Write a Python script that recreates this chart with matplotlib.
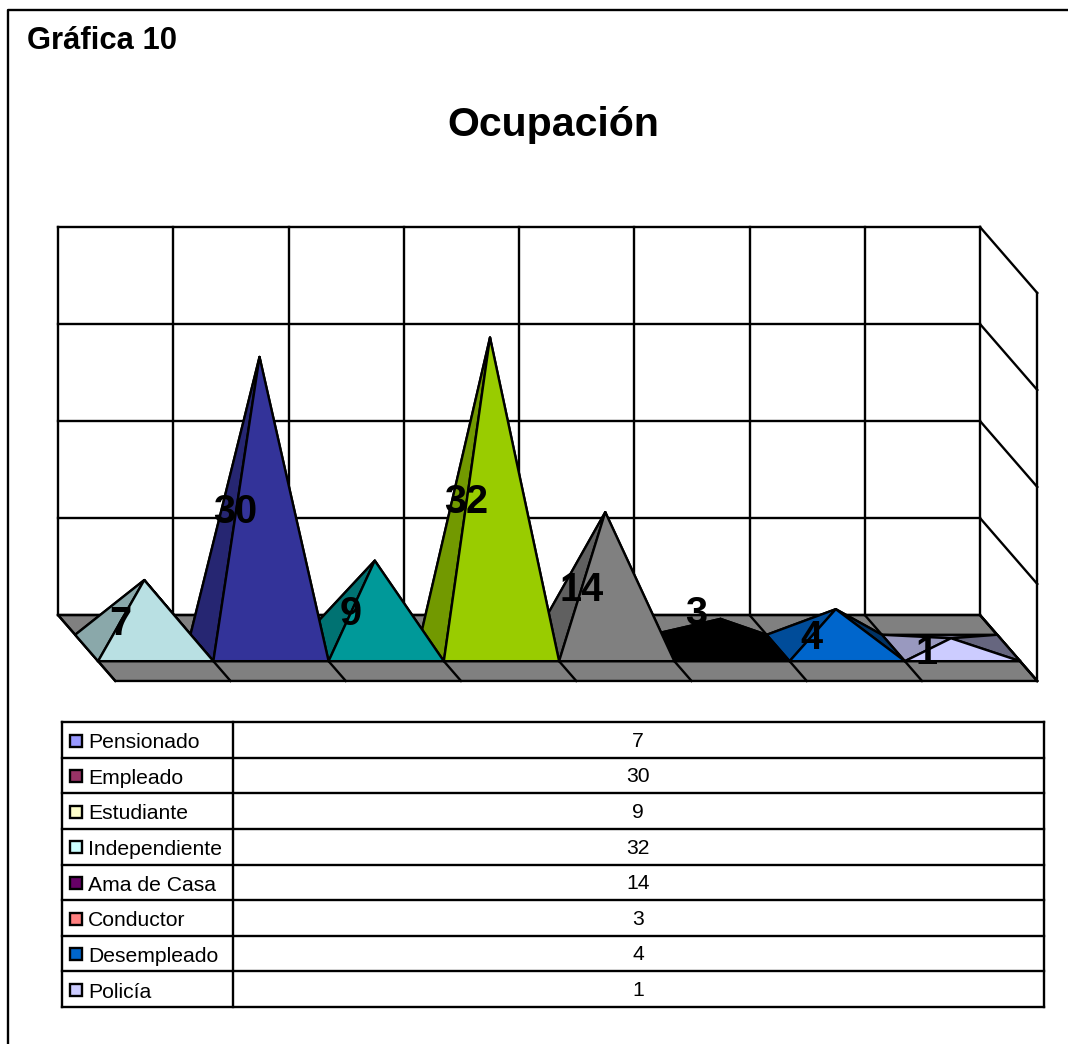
import matplotlib.pyplot as plt
from matplotlib.lines import Line2D
from matplotlib.patches import Polygon

# Data
categories = ["Pensionado", "Empleado", "Estudiante", "Independiente",
              "Ama de Casa", "Conductor", "Desempleado", "Policía"]
values = [7, 30, 9, 32, 14, 3, 4, 1]
face_colors = ["#B9E0E3", "#333399", "#009999", "#99CC00",
               "#808080", "#000000", "#0066CC", "#CCCCFF"]
legend_colors = ["#9999FF", "#993366", "#FFFFCC", "#CCFFFF",
                 "#660066", "#FF8080", "#0066CC", "#CCCCFF"]
y_ticks = [0, 10, 20, 30, 40]

W, H = 1068, 1044
LW = 1.7
FONT = "Liberation Sans"

# how far the floor shifts going from back wall to front edge
DEPTH_X = 0.497
DEPTH_Y = -6.8


def shade(color, factor):
    r, g, b = [int(color[i:i + 2], 16) for i in (1, 3, 5)]
    return "#%02X%02X%02X" % (int(r * factor), int(g * factor), int(b * factor))


def project(x, y, depth):
    return (x + depth * DEPTH_X, y + depth * DEPTH_Y)


def px_axes(left, top, right, bottom):
    return fig.add_axes([left / W, (H - bottom) / H, (right - left) / W, (bottom - top) / H])


def frame_line(xs, ys):
    fig.add_artist(Line2D([x / W for x in xs], [(H - y) / H for y in ys], color="black", lw=LW))


fig = plt.figure(figsize=(W / 100, H / 100), dpi=100)

# outer frame and headings
frame_line([8, 8, W], [H, 10, 10])
fig.text(27 / W, (H - 41) / H, "Gráfica 10", family=FONT, fontsize=22.3,
         fontweight="bold", ha="left", va="center")
fig.text(553 / W, (H - 125) / H, "Ocupación", family=FONT, fontsize=29.5,
         fontweight="bold", ha="center", va="center")

# 3D chart: data coords are on the back wall
ax = px_axes(58, 227, 980, 615)
ax.set_xlim(0, len(categories))
ax.set_ylim(y_ticks[0], y_ticks[-1])
ax.axis("off")

n = len(categories)
floor = [project(0, 0, 0), project(n, 0, 0), project(n, 0, 1), project(0, 0, 1)]
ax.add_patch(Polygon(floor, closed=True, fc="#808080", ec="black", lw=LW, clip_on=False, zorder=1))

for t in y_ticks:
    ax.plot([0, n], [t, t], color="black", lw=LW, clip_on=False, zorder=2)
    p = project(n, t, 1)
    ax.plot([n, p[0]], [t, p[1]], color="black", lw=LW, clip_on=False, zorder=2)
for i in range(n + 1):
    ax.plot([i, i], [y_ticks[0], y_ticks[-1]], color="black", lw=LW, clip_on=False, zorder=2)
    p = project(i, 0, 1)
    ax.plot([i, p[0]], [0, p[1]], color="black", lw=LW, clip_on=False, zorder=2)
p = project(n, y_ticks[-1], 1)
ax.plot([p[0], p[0]], [p[1], project(n, 0, 1)[1]], color="black", lw=LW, clip_on=False, zorder=2)

# front edge of the pyramids row
ax.plot(*zip(project(0, 0, 0.7), project(n, 0, 0.7)), color="black", lw=LW, clip_on=False, zorder=2)

# earlier pyramids sit on top of later ones
for i, (v, c) in enumerate(zip(values, face_colors)):
    fl = project(i, 0, 0.7)
    fr = project(i + 1, 0, 0.7)
    bl = project(i, 0, 0.3)
    br = project(i + 1, 0, 0.3)
    apex = project(i + 0.5, v, 0.5)
    z = 4 - i * 0.01
    faces = [([bl, br, apex], shade(c, 0.5)),
             ([fl, bl, apex], shade(c, 0.75)),
             ([fr, br, apex], shade(c, 0.5)),
             ([fl, fr, apex], c)]
    for pts, col in faces:
        ax.add_patch(Polygon(pts, closed=True, fc=col, ec="black", lw=LW, clip_on=False,
                             joinstyle="round", zorder=z))

# data labels
for i, v in enumerate(values):
    apex = project(i + 0.5, v, 0.5)
    nudge = 3.0 if v == 3 else 0
    ax.text(apex[0] - 0.208, project(0, 0, 0.5)[1] + v / 2 - 1.0 + nudge, str(v),
            family=FONT, fontsize=28.5, fontweight="bold", ha="center", va="center",
            clip_on=False, zorder=5)

# data table under the chart
tb = px_axes(62, 722, 1044, 1007)
tb.set_xlim(62, 1044)
tb.set_ylim(n, 0)
tb.axis("off")
for r in range(n + 1):
    tb.plot([62, 1044], [r, r], color="black", lw=LW, clip_on=False)
for x in (62, 233, 1044):
    tb.plot([x, x], [0, n], color="black", lw=LW, clip_on=False)
for r, (name, v, c) in enumerate(zip(categories, values, legend_colors)):
    tb.plot([76], [r + 0.52], marker="s", ms=8.2, mfc=c, mec="black", mew=1.7, clip_on=False)
    tb.text(88, r + 0.58, name, family=FONT, fontsize=15.2, ha="left", va="center")
    tb.text(638, r + 0.54, str(v), family=FONT, fontsize=15.2, ha="center", va="center")

fig.savefig("out.png", dpi=100)
